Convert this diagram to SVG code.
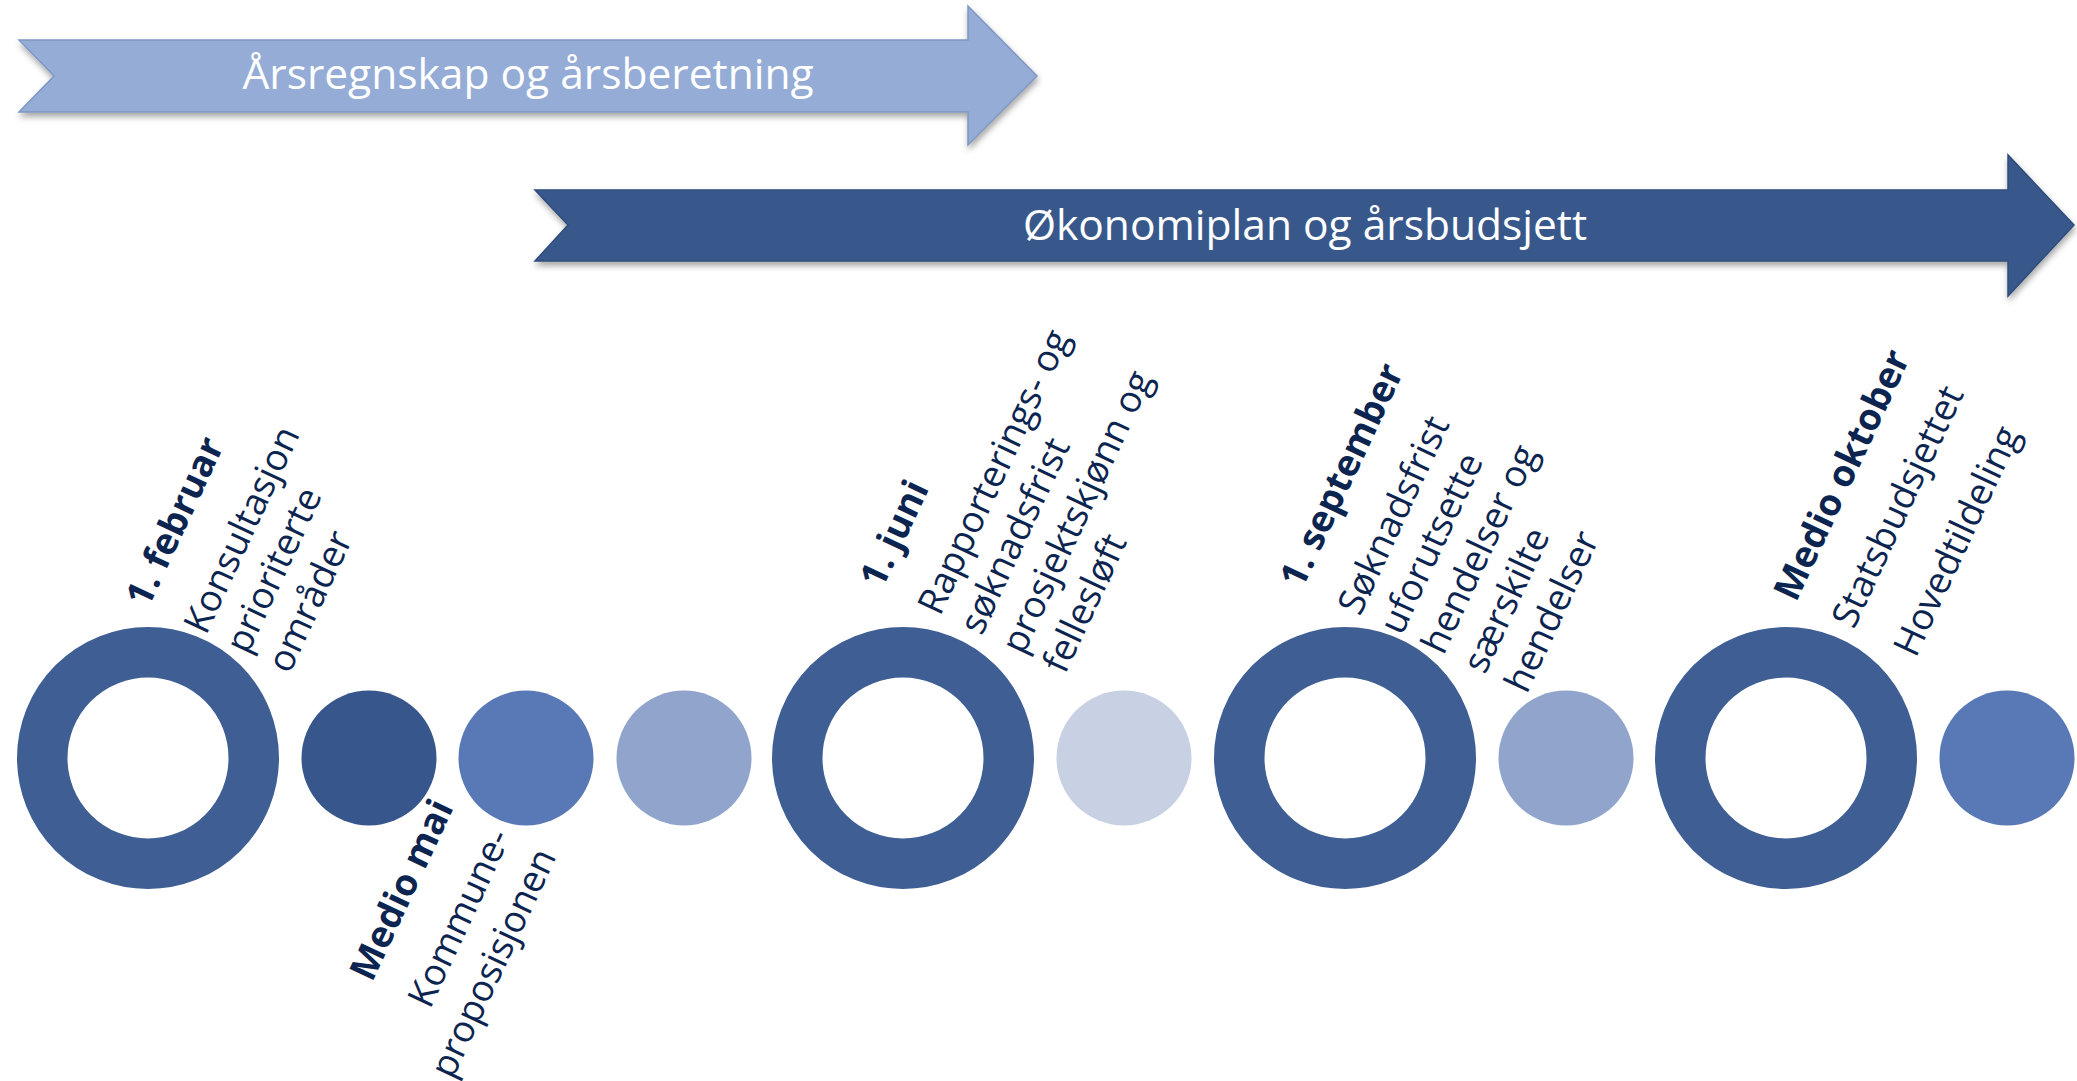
<svg xmlns="http://www.w3.org/2000/svg" width="2077" height="1081" viewBox="0 0 2077 1081">
<style>
.ring{fill:none;stroke:#3E5E94;stroke-width:50.5}
.lbl{font-family:"Open Sans","Noto Sans","DejaVu Sans",sans-serif;font-size:37px;fill:#0C2550}
.b{font-weight:bold}
.end{text-anchor:end}
.arrtxt{font-family:"Open Sans","Noto Sans","DejaVu Sans",sans-serif;font-size:42.5px;fill:#FFFFFF;text-anchor:middle}
</style>
<defs>
<filter id="sh" x="-5%" y="-20%" width="110%" height="150%">
<feDropShadow dx="1" dy="4" stdDeviation="3" flood-color="#000" flood-opacity="0.35"/>
</filter>
</defs>
<g id="arrow-arsregnskap">
<polygon points="19,40 968,40 968,6 1037,76 968,145 968,112 19,112 54,76" fill="#95ACD6" stroke="#7F97C2" stroke-width="1.5" filter="url(#sh)"/>
<text class="arrtxt" x="528" y="89">Årsregnskap og årsberetning</text>
</g>
<g id="arrow-okonomiplan">
<polygon points="535,190 2008,190 2008,155 2074,225 2008,296 2008,261 535,261 568,225" fill="#38598C" stroke="#2E4C7A" stroke-width="1.5" filter="url(#sh)"/>
<text class="arrtxt" x="1305" y="240">Økonomiplan og årsbudsjett</text>
</g>
<g id="ring-februar"><circle class="ring" cx="148" cy="758" r="105.75"/></g>
<g id="dot-1"><circle cx="369" cy="758" r="67.5" fill="#37568B"/></g>
<g id="dot-2"><circle cx="526" cy="758" r="67.5" fill="#5878B6"/></g>
<g id="dot-3"><circle cx="684" cy="758" r="67.5" fill="#91A5CC"/></g>
<g id="ring-juni"><circle class="ring" cx="903" cy="758" r="105.75"/></g>
<g id="dot-4"><circle cx="1124" cy="758" r="67.5" fill="#C8D0E4"/></g>
<g id="ring-september"><circle class="ring" cx="1345" cy="758" r="105.75"/></g>
<g id="dot-5"><circle cx="1566" cy="758" r="67.5" fill="#91A5CC"/></g>
<g id="ring-oktober"><circle class="ring" cx="1786" cy="758" r="105.75"/></g>
<g id="dot-6"><circle cx="2007" cy="758" r="67.5" fill="#5878B6"/></g>
<g id="label-februar">
<text class="lbl" transform="translate(148,609) rotate(-65)"><tspan class="b" x="0" y="0">1. februar</tspan><tspan x="0" dy="64">Konsultasjon</tspan><tspan x="0" dy="46">prioriterte</tspan><tspan x="0" dy="46">områder</tspan></text>
</g>
<g id="label-mai">
<text class="lbl" transform="translate(372,983) rotate(-65)"><tspan class="b" x="0" y="0">Medio mai</tspan><tspan x="0" dy="64">Kommune-</tspan></text>
<text class="lbl end" transform="translate(372,983) rotate(-65)" x="193" y="114">proposisjonen</text>
</g>
<g id="label-juni">
<text class="lbl" transform="translate(882,590) rotate(-65)"><tspan class="b" x="0" y="0">1. juni</tspan><tspan x="0" dy="64">Rapporterings- og</tspan><tspan x="0" dy="46">søknadsfrist</tspan><tspan x="0" dy="46">prosjektskjønn og</tspan><tspan x="0" dy="46">fellesløft</tspan></text>
</g>
<g id="label-september">
<text class="lbl" transform="translate(1302,590) rotate(-65)"><tspan class="b" x="0" y="0">1. september</tspan><tspan x="0" dy="64">Søknadsfrist</tspan><tspan x="0" dy="46">uforutsette</tspan><tspan x="0" dy="46">hendelser og</tspan><tspan x="0" dy="46">særskilte</tspan><tspan x="0" dy="46">hendelser</tspan></text>
</g>
<g id="label-oktober">
<text class="lbl" transform="translate(1796,603) rotate(-65)"><tspan class="b" x="0" y="0">Medio oktober</tspan><tspan x="0" dy="64">Statsbudsjettet</tspan><tspan x="0" dy="68">Hovedtildeling</tspan></text>
</g>
</svg>
